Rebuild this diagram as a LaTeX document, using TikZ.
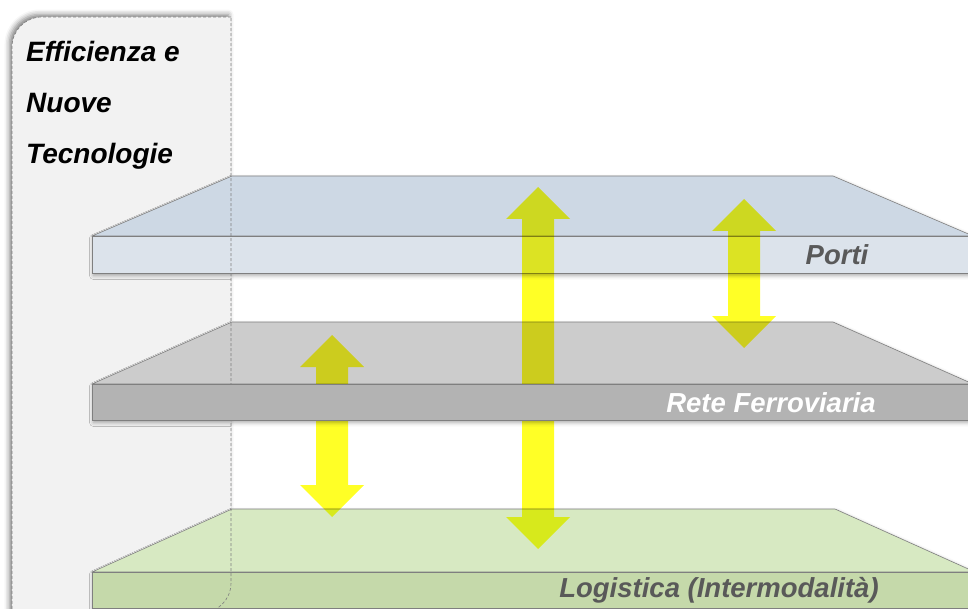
\documentclass[tikz,border=0pt]{standalone}
\usepackage{fontspec}
\setmainfont{Liberation Sans}
\usepackage{xcolor}
\definecolor{panelgray}{HTML}{F2F2F2}
\definecolor{edgegray}{HTML}{7F7F7F}
\definecolor{labelgray}{HTML}{595959}
\definecolor{portitop}{HTML}{CDD8E4}
\definecolor{portifront}{HTML}{DCE3EB}
\definecolor{retetop}{HTML}{CCCCCC}
\definecolor{retefront}{HTML}{B3B3B3}
\definecolor{logtop}{HTML}{D7E9C2}
\definecolor{logfront}{HTML}{C5D9AA}
\definecolor{arrowyellow}{HTML}{FFFF00}
\usetikzlibrary{shadows.blur}

\begin{document}
\begin{tikzpicture}[x = 1pt, y = -1pt,
		face/.style = {draw = edgegray, line width = 0.6pt},
		layershadow/.style = {blur shadow = {shadow xshift = 1.5pt, shadow yshift = -2.5pt,
					shadow blur radius = 4pt, shadow opacity = 35}},
		updown/.style = {fill = arrowyellow, blend mode = multiply, fill opacity = 0.85},
		layerlabel/.style = {font = \bfseries\itshape\fontsize{27.5}{32}\selectfont,
					inner sep = 0pt, anchor = base},
		paneltext/.style = {font = \bfseries\itshape\fontsize{28}{32}\selectfont,
					inner sep = 0pt, anchor = base west}]
		\useasboundingbox (0,0) rectangle (968,609);
		\clip (0,0) rectangle (968,609);
		% left panel
		\fill[panelgray, blur shadow = {shadow xshift = -2.5pt, shadow yshift = 2.5pt,
					shadow blur radius = 5pt, shadow opacity = 50}]
			(231,17) -- (42,17) .. controls (25.4,17) and (12,30.4) .. (12,47) -- (12,613)
			-- (201,613) .. controls (217.6,613) and (231,599.6) .. (231,583) -- cycle;
		\node (eff) [paneltext] at (26,62) {Efficienza e};
		\node (nuove) [paneltext] at (26,113) {Nuove};
		\node (tecn) [paneltext] at (26,164) {Tecnologie};
		% layers
		\path[layershadow] (92,572) -- (232,509) -- (835,509) -- (975,572) -- (975,608) -- (92,608) -- cycle;
		\filldraw[face, fill = logtop] (92,572) -- (232,509) -- (835,509) -- (975,572) -- cycle;
		\filldraw[face, fill = logfront] (92,572) rectangle (975,608);
		\path[layershadow] (92,236) -- (232,176) -- (833,176) -- (973,236) -- (973,273) -- (92,273) -- cycle;
		\filldraw[face, fill = portitop] (92,236) -- (232,176) -- (833,176) -- (973,236) -- cycle;
		\filldraw[face, fill = portifront] (92,236) rectangle (973,273);
		\path[layershadow] (92,384) -- (232,322) -- (833,322) -- (973,384) -- (973,420) -- (92,420) -- cycle;
		\filldraw[face, fill = retetop] (92,384) -- (232,322) -- (833,322) -- (973,384) -- cycle;
		\draw[edgegray, line width = 0.6pt, dash pattern = on 3pt off 2pt]
			(231,17) -- (42,17) .. controls (25.4,17) and (12,30.4) .. (12,47) -- (12,613)
			-- (201,613) .. controls (217.6,613) and (231,599.6) .. (231,583) -- cycle;
		% arrows
		\foreach \x/\ya/\yb in {332/335/517, 538/187/549, 744/199/348}
			\fill[updown] (\x,\ya) -- ++(32,32) -- ++(-16,0) -- (\x+16,\yb-32) -- ++(16,0)
				-- (\x,\yb) -- ++(-32,-32) -- ++(16,0) -- (\x-16,\ya+32) -- ++(-16,0) -- cycle;
		\filldraw[face, fill = retefront] (92,384) rectangle (973,420);
		% labels
		\node (porti) [layerlabel, text = labelgray] at (837,265) {Porti};
		\node (rete) [layerlabel, text = white] at (771,412) {Rete Ferroviaria};
		\node (logistica) [layerlabel, text = labelgray] at (719,597) {Logistica (Intermodalità)};
	\end{tikzpicture}
\end{document}
